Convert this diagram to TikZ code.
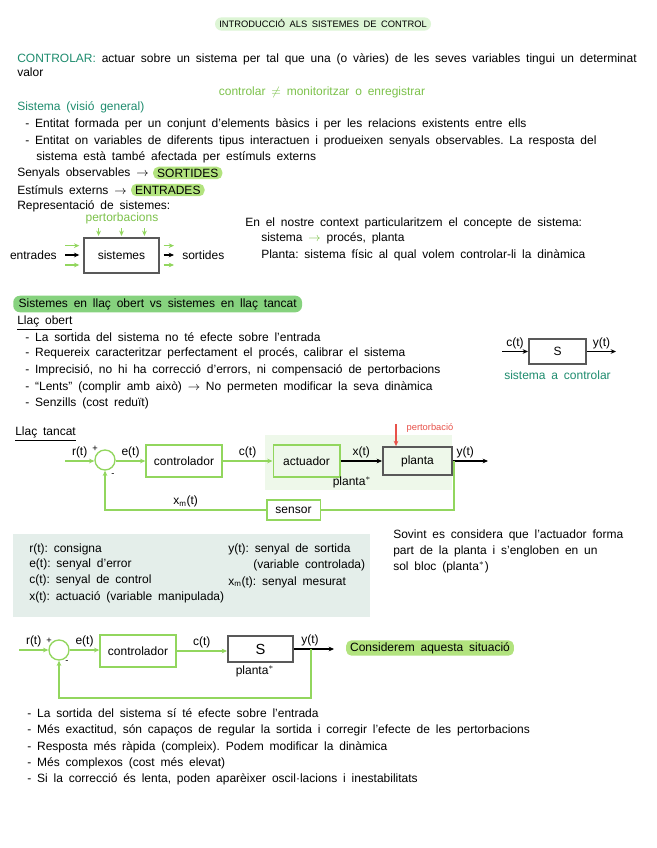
\documentclass[tikz,border=0pt]{standalone}
\usepackage{fontspec}
\setmainfont{Liberation Sans}[WordSpace=1.75]
\usepackage{xcolor}
\usetikzlibrary{arrows.meta, positioning, calc}

\definecolor{verdclar}{HTML}{DDF5D5}
\definecolor{verdtext}{HTML}{7DC24B}
\definecolor{verdfosc}{HTML}{1E8C6E}
\definecolor{verdmarca}{HTML}{B2E37E}
\definecolor{verdseccio}{HTML}{86D27E}
\definecolor{verdlinia}{HTML}{92D65E}
\definecolor{fonsplanta}{HTML}{EEF8EA}
\definecolor{fonsllegenda}{HTML}{E4EEEA}
\definecolor{vermell}{HTML}{E8524A}

\begin{document}
\frenchspacing
\begin{tikzpicture}[x=0.75pt, y=-0.75pt, >={Stealth[length=4pt,width=3.5pt]},
  every node/.style={font=\fontsize{9}{10}\selectfont},
  txt/.style={anchor=west, inner sep=0pt},
  marca/.style={fill=verdmarca, rounded corners=4pt, inner xsep=3pt, inner ysep=1.5pt},
  caixa/.style={draw=verdlinia, line width=1pt, minimum width=57pt, minimum height=24pt},
  planta/.style={draw=black!65, line width=1.3pt},
  suma/.style={circle, draw=verdlinia, line width=1pt, minimum size=15pt, inner sep=0pt},
  gline/.style={draw=verdlinia, line width=1pt},
  gfl/.style={->, draw=verdlinia, line width=1pt},
  nfl/.style={->, line width=0.8pt},
  etiq/.style={above, inner sep=1.5pt},
  petit/.style={font=\fontsize{7}{8}\selectfont}]

  \fill[white] (0,0) rectangle (656,848);
  \useasboundingbox (0,0) rectangle (656,848);

  % Títol
  \node[marca, fill=verdclar, petit, minimum width=162pt, minimum height=10pt, rounded corners=5pt] (titol) at (323,24) {INTRODUCCIÓ ALS SISTEMES DE CONTROL};

  % Definició
  \node[txt] (controlar) at (17,59) {\textcolor{verdfosc}{CONTROLAR:} actuar sobre un sistema per tal que una (o vàries) de les seves variables tingui un determinat};
  \node[txt] (valor) at (17,72) {valor};
  \node[text=verdtext] (monitor) at (322,92) {controlar $\neq$ monitoritzar o enregistrar};

  % Sistema
  \node[txt, text=verdfosc] (sistema) at (17,107) {Sistema (visió general)};
  \node[txt] (ent1) at (25,124) {- Entitat formada per un conjunt d'elements bàsics i per les relacions existents entre ells};
  \node[txt] (ent2) at (25,141) {- Entitat on variables de diferents tipus interactuen i produeixen senyals observables. La resposta del};
  \node[txt] (ent2b) at (36,157) {sistema està també afectada per estímuls externs};
  \node[txt] (senyals) at (17,173) {Senyals observables $\rightarrow$};
  \node[marca, right=3pt of senyals] (sortides) {SORTIDES};
  \node[txt] (estimuls) at (17,190) {Estímuls externs $\rightarrow$};
  \node[marca, right=3pt of estimuls] (entrades) {ENTRADES};
  \node[txt] (repr) at (17,206) {Representació de sistemes:};

  % Representació
  \node[planta, minimum width=56pt, minimum height=26pt] (sist) at (121.5,255.5) {sistemes};
  \node[text=verdtext] (pert) at (122,218) {pertorbacions};
  \foreach \f in {0.2,0.5,0.8} {
    \path ($(sist.north west)!\f!(sist.north east)$) coordinate (pa);
    \draw[gfl] (pa |- pert.south) -- ([yshift=1pt]pa);
  }
  \node[txt, anchor=east] (entr) at (57,255) {entrades};
  \node[txt] (sort) at (182,255) {sortides};
  \draw[nfl] ([xshift=6pt]entr.east) -- ([xshift=-3pt]sist.west |- entr.east);
  \draw[nfl] ([xshift=3pt]sist.east |- sort.west) -- ([xshift=-6pt]sort.west);
  \foreach \d in {-7.5pt,7pt} {
    \draw[gfl] ([xshift=6pt,yshift=\d]entr.east) -- ([xshift=-3pt,yshift=\d]sist.west |- entr.east);
    \draw[gfl] ([xshift=3pt,yshift=\d]sist.east |- sort.west) -- ([xshift=-6pt,yshift=\d]sort.west);
  }
  \node[txt] (context) at (245,223) {En el nostre context particularitzem el concepte de sistema:};
  \node[txt] (proces) at (261,238) {sistema \textcolor{verdtext}{$\rightarrow$} procés, planta};
  \node[txt] (plantadef) at (261,255) {Planta: sistema físic al qual volem controlar-li la dinàmica};

  % Llaç obert vs llaç tancat
  \node[txt, fill=verdseccio, rounded corners=5pt, inner xsep=4pt, inner ysep=2pt] (seccio) at (13,304) {Sistemes en llaç obert vs sistemes en llaç tancat};
  \node[txt] (obert) at (17,323) {\underline{Llaç obert}};
  \node[txt] (ob1) at (25,337) {- La sortida del sistema no té efecte sobre l'entrada};
  \node[txt] (ob2) at (25,353) {- Requereix caracteritzar perfectament el procés, calibrar el sistema};
  \node[txt] (ob3) at (25,370) {- Imprecisió, no hi ha correcció d'errors, ni compensació de pertorbacions};
  \node[txt] (ob4) at (25,387) {- ``Lents'' (complir amb això) $\rightarrow$ No permeten modificar la seva dinàmica};
  \node[txt] (ob5) at (25,403) {- Senzills (cost reduït)};

  % Sistema a controlar
  \node[planta, minimum width=43pt, minimum height=19pt] (S1) at (557.5,351.5) {S};
  \coordinate (c1) at (502,351.5);
  \coordinate (y1) at (616,351.5);
  \draw[nfl] (c1) -- (S1.west) node[midway, etiq]{c(t)};
  \draw[nfl] (S1.east) -- (y1) node[midway, etiq]{y(t)};
  \node[text=verdfosc, below=1pt of S1] (sacontrolar) {sistema a controlar};

  % Llaç tancat
  \node[txt] (tancat) at (15,434) {\underline{Llaç tancat}};
  \fill[fonsplanta] (265,435) rectangle (452,490);
  \node[suma] (sum1) at (105,460) {};
  \node[caixa] (contr1) at (184,461) {controlador};
  \node[caixa, minimum width=50pt] (act1) at (306.5,461) {actuador};
  \node[planta, minimum width=52pt, minimum height=21pt] (planta1) at (417.5,461) {planta};
  \node[caixa, minimum width=40pt, minimum height=15pt] (sensor1) at (293.5,510) {sensor};
  \node[petit] (mes1) at (95,449) {+};
  \node[petit] (menys1) at (113,475) {-};
  \coordinate (r1) at (65,461);
  \coordinate (y1out) at (488,461);
  \draw[gfl] (r1) -- (sum1.west |- r1) node[midway, etiq]{r(t)};
  \draw[gfl] (sum1.east |- contr1.west) -- (contr1.west) node[midway, etiq]{e(t)};
  \draw[gfl] (contr1.east) -- (act1.west) node[midway, etiq]{c(t)};
  \draw[nfl] (act1.east) -- (planta1.west) node[midway, etiq]{x(t)};
  \draw[nfl] (planta1.east) -- (y1out) node[pos=0.35, etiq]{y(t)};
  \node (pstar1) at (352,482) {planta$^{*}$};
  \node[text=vermell, petit] (pertb1) at (430,428) {pertorbació};
  \coordinate (pp) at (396,424);
  \draw[->, draw=vermell, line width=0.8pt] (pp) -- (pp |- planta1.north);
  \coordinate (fb1) at (454,461);
  \draw[gline] (fb1) |- (sensor1.east);
  \draw[gfl] (sensor1.west) -| (sum1.south) node[pos=0.25, etiq]{x\textsubscript{m}(t)};

  % Llegenda
  \fill[fonsllegenda] (13,534) rectangle (370,617);
  \node[txt] (lr) at (29,549) {r(t): consigna};
  \node[txt] (le) at (29,564) {e(t): senyal d'error};
  \node[txt] (lc) at (29,580) {c(t): senyal de control};
  \node[txt] (lx) at (29,597) {x(t): actuació (variable manipulada)};
  \node[txt] (ly) at (228,549) {y(t): senyal de sortida};
  \node[txt] (ly2) at (253,565) {(variable controlada)};
  \node[txt] (lxm) at (228,582) {x\textsubscript{m}(t): senyal mesurat};
  \node[txt] (sovint1) at (393,535) {Sovint es considera que l'actuador forma};
  \node[txt] (sovint2) at (393,551) {part de la planta i s'engloben en un};
  \node[txt] (sovint3) at (393,567) {sol bloc (planta$^{*}$)};

  % Situació simplificada
  \node[suma] (sum2) at (59,650) {};
  \node[caixa] (contr2) at (138,651) {controlador};
  \node[planta, minimum width=49pt, minimum height=20pt, font=\fontsize{11}{12}\selectfont] (S2) at (260.5,649) {S};
  \node[petit] (mes2) at (49,641) {+};
  \node[petit] (menys2) at (67,662) {-};
  \coordinate (r2) at (19,650);
  \coordinate (y2out) at (334,649);
  \coordinate (fb2) at (311,649);
  \draw[gfl] (r2) -- (sum2.west) node[midway, etiq]{r(t)};
  \draw[gfl] (sum2.east) -- (contr2.west |- sum2.east) node[midway, etiq]{e(t)};
  \draw[gfl] (contr2.east) -- (S2.west |- contr2.east) node[midway, etiq]{c(t)};
  \draw[nfl] (S2.east) -- (y2out) node[pos=0.4, etiq]{y(t)};
  \draw[gfl] (fb2) -- ++(0,49) -| (sum2.south);
  \node (pstar2) at (255,671) {planta$^{*}$};
  \node[marca] (considerem) at (430,648) {Considerem aquesta situació};

  % Característiques del llaç tancat
  \node[txt] (tc1) at (27,713) {- La sortida del sistema sí té efecte sobre l'entrada};
  \node[txt] (tc2) at (27,730) {- Més exactitud, són capaços de regular la sortida i corregir l'efecte de les pertorbacions};
  \node[txt] (tc3) at (27,747) {- Resposta més ràpida (compleix). Podem modificar la dinàmica};
  \node[txt] (tc4) at (27,763) {- Més complexos (cost més elevat)};
  \node[txt] (tc5) at (27,779) {- Si la correcció és lenta, poden aparèixer oscil·lacions i inestabilitats};
\end{tikzpicture}
\end{document}
